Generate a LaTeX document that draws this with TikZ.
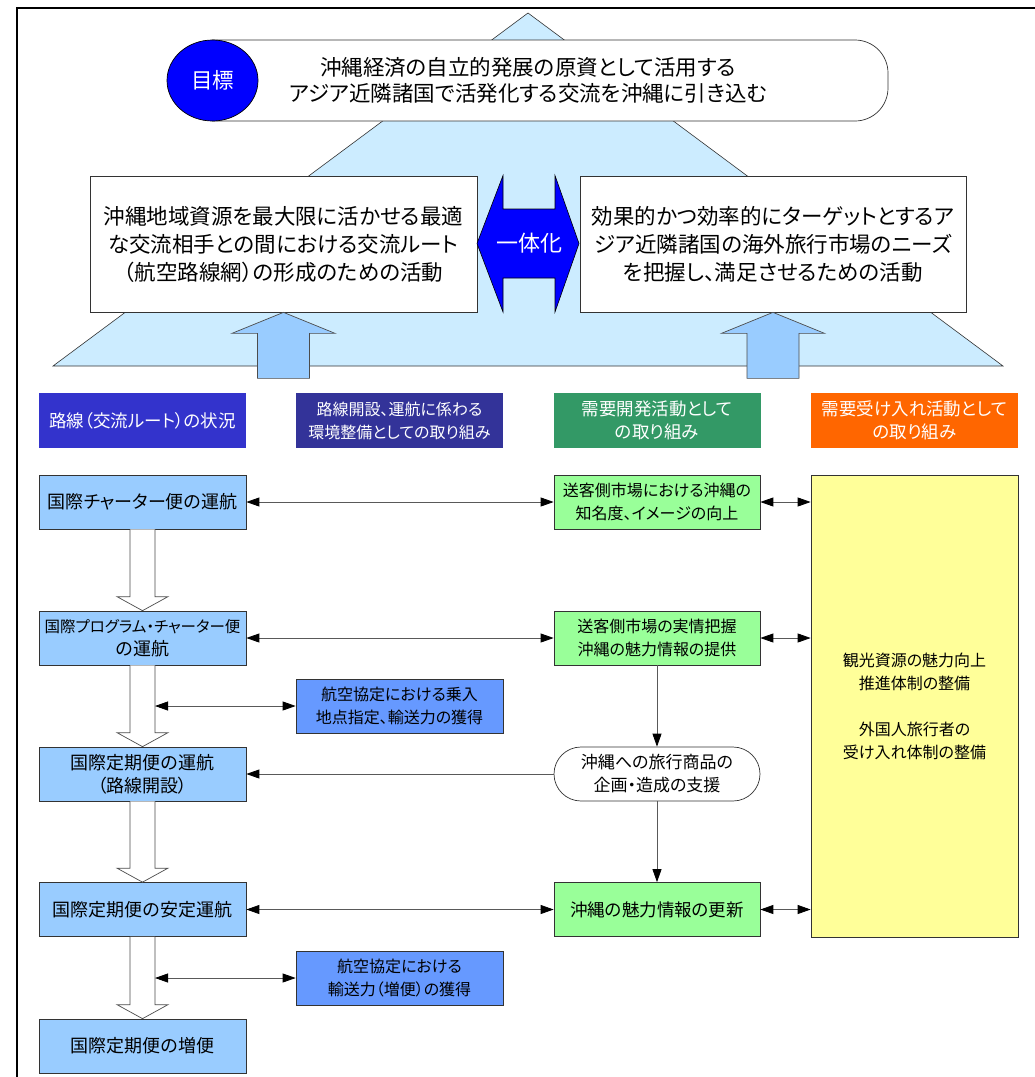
\documentclass[tikz,border=0pt]{standalone}
\usepackage{fontspec}
\setmainfont{Noto Sans CJK JP}[RawFeature=+palt]
\usetikzlibrary{arrows.meta,calc}
\definecolor{tri}{HTML}{CCECFF}
\definecolor{goalblue}{HTML}{0000FF}
\definecolor{uparrowc}{HTML}{99CCFF}
\definecolor{hA}{HTML}{3333CC}
\definecolor{hB}{HTML}{333399}
\definecolor{hC}{HTML}{339966}
\definecolor{hD}{HTML}{FF6600}
\definecolor{lboxc}{HTML}{99CCFF}
\definecolor{mboxc}{HTML}{6699FF}
\definecolor{gboxc}{HTML}{99FF99}
\definecolor{yboxc}{HTML}{FFFF99}
\newcommand\myfs[2]{\fontsize{#1}{#2}\selectfont}
\newcommand\hdarrow[2]{\draw[hollow] ([xshift=-12.5pt]#1.south) -- ($(#2.north)+(-12.5,-14)$) -- ($(#2.north)+(-25.5,-14)$) -- (#2.north) -- ($(#2.north)+(25.5,-14)$) -- ($(#2.north)+(12.5,-14)$) -- ([xshift=12.5pt]#1.south);}
\newcommand\uparr[1]{\draw[uparrowstyle] ($(#1.south)+(-26,66)$) -- ($(#1.south)+(-26,21)$) -- ($(#1.south)+(-51.5,21)$) -- (#1.south) -- ($(#1.south)+(51.5,21)$) -- ($(#1.south)+(26,21)$) -- ($(#1.south)+(26,66)$) -- cycle;}
\begin{document}
\begin{tikzpicture}[x=1pt,y=-1pt,
  box/.style={draw=black!80, line width=0.7pt, align=center, inner sep=0pt,
    minimum width=207pt, minimum height=54pt, font=\myfs{16}{23}},
  lbox/.style={box, fill=lboxc, font=\myfs{18}{23}},
  hdr/.style={align=center, inner sep=0pt, minimum width=207pt, minimum height=55pt,
    text=white, font=\myfs{17.5}{23}},
  bigbox/.style={draw=black!80, line width=0.7pt, fill=white, align=center, inner sep=0pt,
    minimum height=136pt, font=\myfs{21.5}{28}},
  conn/.style={draw=black!65, line width=0.8pt},
  tip/.tip={Triangle[length=13pt,width=9pt,color=black]},
  dbl/.style={conn, tip-tip},
  arr/.style={conn, -tip},
  hollow/.style={draw=black!70, line width=0.7pt, fill=white},
  uparrowstyle/.style={draw=black!70, line width=0.7pt, fill=uparrowc}]
\useasboundingbox (0,0) rectangle (1035,1077);
% frame
\draw[line width=2pt] (1035,8) -- (17,8) -- (17,1077);
% triangle
\draw[fill=tri, draw=black!80, line width=0.6pt] (528,13) -- (1003,366) -- (53,366) -- cycle;
% goal cylinder
\draw[fill=white, draw=black!80, line width=0.7pt] (212.5,40) -- (855,40)
  arc[start angle=-90, end angle=0, radius=33] -- (888,88)
  arc[start angle=0, end angle=90, radius=33] -- (212.5,121) -- cycle;
\draw[fill=goalblue, draw=black, line width=0.7pt] (212.5,80.5) ellipse[x radius=45.5, y radius=40.5];
\node[text=white, font=\myfs{21.5}{26}] (goallabel) at (212.5,80.5) {目標};
\node[align=center, font=\myfs{21.5}{26}] (goal) at (528,80.5)
  {沖縄経済の自立的発展の原資として活用する\\アジア近隣諸国で活発化する交流を沖縄に引き込む};
% top boxes
\node[bigbox, minimum width=387pt] (TL) at (283.5,244)
  {沖縄地域資源を最大限に活かせる最適\\な交流相手との間における交流ルート\\（航空路線網）の形成のための活動};
\node[bigbox, minimum width=386pt] (TR) at (773,244)
  {効果的かつ効率的にターゲットとするア\\ジア近隣諸国の海外旅行市場のニーズ\\を把握し、満足させるための活動};
\uparr{TL}
\uparr{TR}
% unify arrow
\draw[fill=goalblue, draw=black, line width=0.6pt] (477,243.5) -- (503,175.5) -- (503,209) -- (555,209) -- (555,175.5)
  -- (579,243.5) -- (555,312) -- (555,278) -- (503,278) -- (503,312) -- cycle;
\node[text=white, font=\myfs{22}{26}] (unify) at (529,243.5) {一体化};
% headers
\node[hdr, fill=hA] (H1) at (142.5,420.5) {路線（交流ルート）の状況};
\node[hdr, fill=hB, font=\myfs{16}{23}] (H2) at (399.5,420.5) {路線開設、運航に係わる\\環境整備としての取り組み};
\node[hdr, fill=hC] (H3) at (657,420.5) {需要開発活動として\\の取り組み};
\node[hdr, fill=hD] (H4) at (914.5,420.5) {需要受け入れ活動として\\の取り組み};
% left column
\node[lbox] (L1) at (142.5,502) {国際チャーター便の運航};
\node[lbox] (L2) at (142.5,638) {{\myfs{15.5}{23}国際プログラム・チャーター便}\\の運航};
\node[lbox] (L3) at (142.5,774) {国際定期便の運航\\（路線開設）};
\node[lbox] (L4) at (142.5,909.5) {国際定期便の安定運航};
\node[lbox] (L5) at (142.5,1046) {国際定期便の増便};
% middle-left
\node[box, fill=mboxc] (M1) at (399.5,706) {航空協定における乗入\\地点指定、輸送力の獲得};
\node[box, fill=mboxc] (M2) at (399.5,978) {航空協定における\\輸送力（増便）の獲得};
% green column
\node[box, fill=gboxc, minimum width=206pt] (G1) at (657,502) {送客側市場における沖縄の\\知名度、イメージの向上};
\node[box, fill=gboxc, minimum width=206pt] (G2) at (657,638) {送客側市場の実情把握\\沖縄の魅力情報の提供};
\node[box, fill=white, minimum width=206pt, rounded corners=27pt, font=\myfs{17}{23}] (G3) at (657,774) {沖縄への旅行商品の\\企画・造成の支援};
\node[box, fill=gboxc, minimum width=206pt, font=\myfs{17.5}{23}] (G4) at (657,909.5) {沖縄の魅力情報の更新};
% yellow
\node[box, fill=yboxc, minimum height=462pt, font=\myfs{16}{23}] (Y) at (914.5,706)
  {観光資源の魅力向上\\推進体制の整備\\[23pt]外国人旅行者の\\受け入れ体制の整備};
% hollow arrows
\hdarrow{L1}{L2}
\hdarrow{L2}{L3}
\hdarrow{L3}{L4}
\hdarrow{L4}{L5}
\coordinate (shaft) at (155,0);
% connectors
\draw[dbl] (M1.west) -- (M1.west -| shaft);
\draw[dbl] (M2.west) -- (M2.west -| shaft);
\draw[dbl] (L1.east) -- (G1.west);
\draw[dbl] (L2.east) -- (G2.west);
\draw[arr] (G3.west) -- (L3.east);
\draw[dbl] (L4.east) -- (G4.west);
\draw[arr] (G2.south) -- (G3.north);
\draw[arr] (G3.south) -- (G4.north);
\draw[dbl] (G1.east) -- (G1.east -| Y.west);
\draw[dbl] (G2.east) -- (G2.east -| Y.west);
\draw[dbl] (G4.east) -- (G4.east -| Y.west);
\end{tikzpicture}
\end{document}
